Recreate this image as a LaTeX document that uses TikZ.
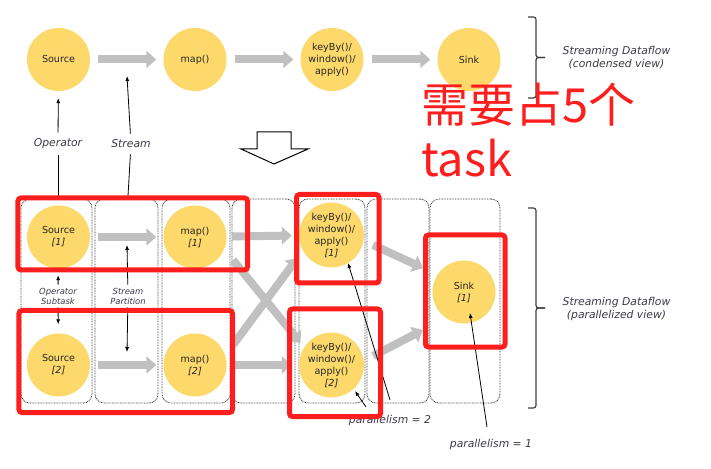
\documentclass[tikz,border=0pt]{standalone}
\usepackage{fontspec}
\setmainfont{DejaVu Sans}
\newfontfamily\cjk{Noto Sans CJK SC}
\usetikzlibrary{arrows.meta,calc}
\definecolor{nodefill}{HTML}{FDD86A}
\definecolor{arrgray}{HTML}{C0C0C0}
\definecolor{redmark}{HTML}{FF1E1E}
\definecolor{txt}{HTML}{262626}
\definecolor{lbl}{HTML}{3A3A4C}
\definecolor{dotc}{HTML}{3C3C3C}
\begin{document}
\begin{tikzpicture}[x=1bp,y=-1bp,
  circ/.style={circle,fill=nodefill,minimum size=63bp,inner sep=0pt,align=center,text=txt,font=\fontsize{9.6bp}{12bp}\selectfont},
  garr/.style={draw=arrgray,line width=8bp,-{Triangle[length=10bp,width=17bp]},shorten <=8bp,shorten >=7bp},
  colbox/.style={draw=dotc,line width=0.8bp,dash pattern=on 0.8bp off 0.8bp,rounded corners=9bp,inner sep=0pt},
  redbox/.style={draw=redmark,line width=5bp,rounded corners=3bp,inner sep=0pt},
  ann/.style={draw=black,line width=0.8bp,-{Latex[length=5bp,width=4bp]}},
  annplain/.style={draw=black,line width=0.8bp},
  lab/.style={font=\fontsize{10.8bp}{13.3bp}\selectfont\itshape,text=lbl,align=center,inner sep=0pt},
  slab/.style={font=\fontsize{8.4bp}{10bp}\selectfont\itshape,text=lbl,align=center,inner sep=3bp},
  brc/.style={draw=darkgray,line width=1.2bp,rounded corners=2.5bp},
  zh/.style={anchor=base west,inner sep=0pt,text=redmark,font=\cjk\fontsize{47bp}{54bp}\selectfont}
]
\fill[white] (0,0) rectangle (711,469);
\useasboundingbox (0,0) rectangle (711,469);

% ---------- condensed view ----------
\node[circ] (src) at (58.5,59.5) {Source};
\node[circ] (map) at (195,59.5) {map()};
\node[circ] (key) at (332,59.5) {keyBy()/\\window()/\\apply()};
\node[circ] (sink) at (469,59.5) {Sink};
\draw[garr] (src) -- (map);
\draw[garr] (map) -- (key);
\draw[garr] (key) -- (sink);

\node[lab,inner sep=6bp] (opl) at (58,144) {Operator};
\node[lab,inner sep=6bp] (stl) at (131,144) {Stream};
\coordinate (opb) at (58,196);
\coordinate (stt) at (127,76);
\coordinate (stb) at (128,196);
\draw[ann,shorten >=7bp] (opl) -- (src);
\draw[annplain] (opb) -- (opl);
\draw[ann] (stl) -- (stt);
\draw[annplain] (stb) -- (stl);

% hollow arrow
\draw[line width=1bp] (257,132) -- (291,132) -- (291,149) -- (308,149) -- (274,164) -- (241,149) -- (257,149) -- cycle;

% braces
\draw[brc] (528,17) -- (536,17) -- (536,57.5) -- (545,57.5);
\draw[brc] (528,98) -- (536,98) -- (536,57.5) -- (545,57.5);
\draw[brc] (528,208) -- (536,208) -- (536,308) -- (545,308);
\draw[brc] (528,408) -- (536,408) -- (536,308) -- (545,308);

\node[lab] (cv) at (616.5,57.5) {Streaming Dataflow\\(condensed view)};
\node[lab] (pv) at (616.5,309) {Streaming Dataflow\\(parallelized view)};

\node[zh] (zh1) at (421,123) {需要占5个};
\node[zh] (zh2) at (421,177) {task};

% ---------- parallelized view ----------
\node[colbox,minimum width=71bp,minimum height=204bp] (c1) at (56.5,301) {};
\node[colbox,minimum width=63bp,minimum height=204bp] (c2) at (126.5,301) {};
\node[colbox,minimum width=68bp,minimum height=204bp] (c3) at (196,301) {};
\node[colbox,minimum width=63bp,minimum height=204bp] (c4) at (263.5,301) {};
\node[colbox,minimum width=66bp,minimum height=204bp] (c5) at (332,301) {};
\node[colbox,minimum width=62bp,minimum height=204bp] (c6) at (398,301) {};
\node[colbox,minimum width=70bp,minimum height=204bp] (c7) at (465,301) {};

\node[circ] (src1) at (58.5,237) {Source\\\textit{[1]}};
\node[circ] (map1) at (195,237) {map()\\\textit{[1]}};
\node[circ] (key1) at (331.5,235) {keyBy()/\\window()/\\apply()\\\textit{[1]}};
\node[circ] (src2) at (58.5,365) {Source\\\textit{[2]}};
\node[circ] (map2) at (195,365) {map()\\\textit{[2]}};
\node[circ] (key2) at (331.5,365) {keyBy()/\\window()/\\apply()\\\textit{[2]}};
\node[circ] (sink1) at (464,292) {Sink\\\textit{[1]}};

\draw[garr] (src1) -- (map1);
\draw[garr] (src2) -- (map2);
\draw[garr,shorten <=5.5bp] (map1) -- (key1);
\draw[garr,shorten <=5.5bp] (map2) -- (key2);
\draw[garr,shorten <=0bp,shorten >=0bp] ($(map1)+(38,23)$) -- ($(key2)+(-31,-22)$);
\draw[garr,shorten <=0bp,shorten >=0bp] ($(map2)+(38,-20)$) -- ($(key1)+(-34,23)$);
\draw[garr,shorten <=0bp,shorten >=0bp] ($(key1)+(41.5,10)$) -- ($(sink1)+(-41,-24)$);
\draw[garr,shorten <=0bp,shorten >=0bp] ($(key2)+(41.5,-9)$) -- ($(sink1)+(-41,38)$);

% annotations
\node[slab] (osl) at (58,296) {Operator\\Subtask};
\node[slab] (spl) at (128,296) {Stream\\Partition};
\draw[ann,shorten >=6.5bp] (osl) -- (src1);
\draw[ann,shorten >=9bp] (osl) -- (src2);
\coordinate (spt) at (127,245);
\coordinate (spb) at (127,352);
\draw[ann] (spl) -- (spt);
\draw[ann] (spl) -- (spb);

\node[lab] (p2) at (390,421) {parallelism = 2};
\node[lab] (p1) at (491,445) {parallelism = 1};
\coordinate (p2a) at (390,400);
\coordinate (p2b) at (366,407);
\coordinate (p1a) at (487,427);
\draw[ann] (p2a) -- ($(key1)+(16.5,28)$);
\draw[ann] (p2b) -- ($(key2)+(23.5,26)$);
\draw[ann] (p1a) -- ($(sink1)+(6,21)$);

% red marks
\node[redbox,minimum width=229.5bp,minimum height=72bp] (r1) at (132.75,234) {};
\node[redbox,minimum width=213.5bp,minimum height=102bp] (r2) at (125.75,361.5) {};
\node[redbox,minimum width=82.5bp,minimum height=88.5bp] (r3) at (337.75,238.75) {};
\node[redbox,minimum width=91bp,minimum height=107.5bp] (r4) at (335,362.75) {};
\node[redbox,minimum width=79.5bp,minimum height=112bp] (r5) at (465.25,291) {};
\end{tikzpicture}
\end{document}
